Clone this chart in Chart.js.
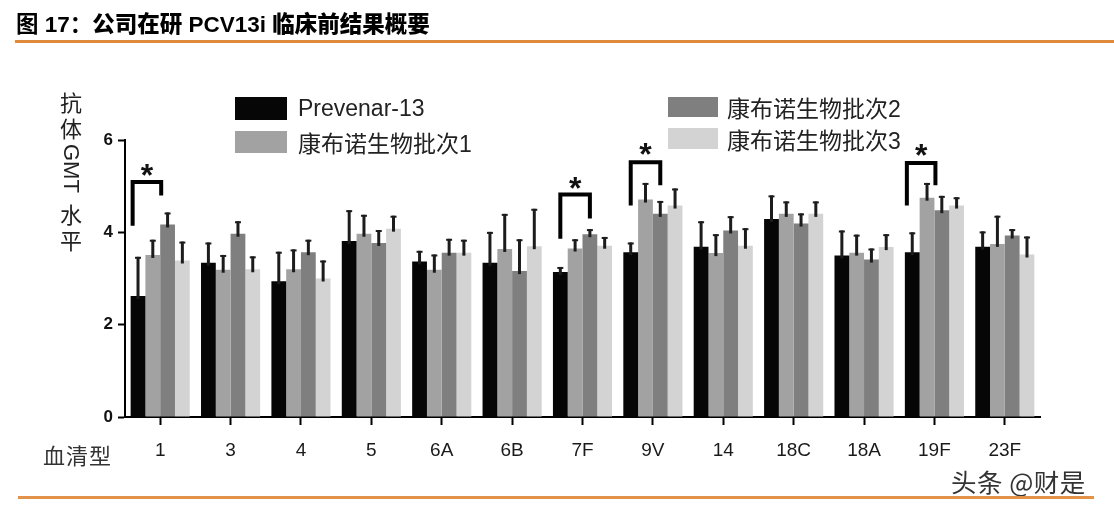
<!DOCTYPE html>
<html>
<head>
<meta charset="utf-8">
<script src="https://cdn.jsdelivr.net/npm/chart.js@4.4.1/dist/chart.umd.min.js"></script>
<style>
    body { margin: 0; background: #fff; }
    #wrap { position: relative; width: 1114px; height: 508px; overflow: hidden; background: #fff; }
    #chart { position: absolute; left: 0; top: 0; }
    .abs { position: absolute; z-index: 2; white-space: nowrap; }
    .title { left: 16px; top: 6px; font: bold 22.5px "Liberation Sans", "Noto Sans CJK SC", sans-serif; color: #000; }
    .title span { font-family: "Noto Sans CJK SC", sans-serif; font-weight: 900; }
    .rule { position: absolute; height: 3px; background: #e08a3c; z-index: 2; }
    #ylabel { left: 58px; top: 88px; width: 26px; text-align: center; font: 22px "Noto Sans CJK SC", sans-serif; color: #222; line-height: 26px; }
    #ylabel .gmt { writing-mode: vertical-rl; font: 22px "Liberation Sans", sans-serif; line-height: 26px; margin: 4px auto 4px; display: inline-block; }
    .leg { position: absolute; z-index: 2; display: flex; align-items: center; white-space: nowrap; color: #222; }
    .leg i { display: inline-block; }
    #xname { left: 43px; top: 438px; font: 22px "Noto Sans CJK SC", sans-serif; color: #333; letter-spacing: 1px; }
    #mark { left: 951px; top: 462px; font: 25.5px "Noto Sans CJK SC", sans-serif; color: #333; letter-spacing: 0.5px; }
</style>
</head>
<body>
<div id="wrap">
    <canvas id="chart" width="1114" height="508"></canvas>
    <div class="abs title">图 17：<span>公司在研</span> PCV13i <span>临床前结果概要</span></div>
    <div class="rule" style="left:15px; top:40px; width:1099px;"></div>
    <div class="abs" id="ylabel">抗<br>体<br><span class="gmt">GMT</span><br>水<br>平</div>
    <div id="legend"></div>
    <div class="abs" id="xname">血清型</div>
    <div class="abs" id="mark">头条 @财是</div>
    <div class="rule" style="left:18px; top:496px; width:1076px; background:#e3924a;"></div>
</div>
<script>
// serotypes on the x axis
var serotypes = ['1', '3', '4', '5', '6A', '6B', '7F', '9V', '14', '18C', '18A', '19F', '23F'];
var seriesNames = ['Prevenar-13', '康布诺生物批次1', '康布诺生物批次2', '康布诺生物批次3'];

// antibody GMT level (bar) and top of the error bar
var prevenar    = [2.62, 3.34, 2.94, 3.81, 3.37, 3.34, 3.14, 3.57, 3.69, 4.29, 3.50, 3.57, 3.69];
var prevenarErr = [3.47, 3.78, 3.58, 4.48, 3.60, 4.01, 3.25, 3.78, 4.24, 4.80, 4.04, 4.00, 4.02];
var lot1        = [3.51, 3.19, 3.20, 3.97, 3.19, 3.64, 3.65, 4.71, 3.55, 4.40, 3.56, 4.75, 3.75];
var lot1Err     = [3.84, 3.51, 3.63, 4.38, 3.52, 4.40, 3.85, 5.07, 3.96, 4.67, 3.95, 5.07, 4.36];
var lot2        = [4.17, 3.97, 3.57, 3.77, 3.56, 3.16, 3.96, 4.40, 4.04, 4.19, 3.41, 4.48, 3.93];
var lot2Err     = [4.43, 4.24, 3.84, 4.05, 3.86, 3.85, 4.07, 4.68, 4.35, 4.41, 3.65, 4.79, 4.07];
var lot3        = [3.39, 3.20, 3.00, 4.08, 3.56, 3.70, 3.71, 4.58, 3.71, 4.40, 3.68, 4.58, 3.52];
var lot3Err     = [3.80, 3.48, 3.39, 4.36, 3.84, 4.51, 3.90, 4.95, 4.09, 4.67, 3.96, 4.76, 3.91];

var yTicks = [0, 2, 4, 6];

// significance brackets (values in GMT units), from Prevenar-13 to the given lot
var sigSerotypes = ['1', '7F', '9V', '19F'];
var sigToSeries  = [1, 2, 2, 1];
var sigTop       = [5.09, 4.82, 5.52, 5.50];
var sigLeftEnd   = [4.14, 3.86, 4.58, 4.58];
var sigRightEnd  = [4.80, 4.30, 5.02, 5.02];
var sigStar      = [5.34, 5.07, 5.81, 5.77];

var colors = ['#060606', '#a2a2a2', '#7f7f7f', '#d3d3d3'];

// Legend (two columns, like the source figure)
var legendBoxes = [
    { left: 235, top: 97, w: 52, h: 23, gap: 11 },
    { left: 235, top: 131, w: 52, h: 22, gap: 11 },
    { left: 668, top: 97, w: 50, h: 20, gap: 9 },
    { left: 668, top: 128, w: 50, h: 21, gap: 9 }
];
var legendEl = document.getElementById('legend');
seriesNames.forEach(function (name, i) {
    var b = legendBoxes[i];
    var item = document.createElement('div');
    item.className = 'leg';
    item.style.left = b.left + 'px';
    item.style.top = b.top + 'px';
    item.style.height = b.h + 'px';
    item.style.font = '23px "Liberation Sans", "Noto Sans CJK SC", sans-serif';
    item.innerHTML = '<i style="width:' + b.w + 'px;height:' + b.h + 'px;background:' + colors[i] +
        ';margin-right:' + b.gap + 'px"></i><span>' + name + '</span>';
    legendEl.appendChild(item);
});

// Draw the upper error bars on top of each bar
var errorBars = {
    id: 'errorBars',
    afterDatasetsDraw: function (chart) {
        var ctx = chart.ctx;
        var y = chart.scales.y;
        chart.data.datasets.forEach(function (ds, i) {
            chart.getDatasetMeta(i).data.forEach(function (bar, j) {
                var top = y.getPixelForValue(ds.errTop[j]);
                ctx.save();
                ctx.strokeStyle = '#1c1c1c';
                ctx.lineWidth = 3;
                ctx.beginPath();
                ctx.moveTo(bar.x, bar.y + 3);
                ctx.lineTo(bar.x, top);
                ctx.stroke();
                ctx.lineWidth = 2;
                ctx.beginPath();
                ctx.moveTo(bar.x - 3, top + 1);
                ctx.lineTo(bar.x + 3, top + 1);
                ctx.stroke();
                ctx.restore();
            });
        });
    }
};

// Significance brackets with a star
var sigMarks = {
    id: 'sigMarks',
    afterDatasetsDraw: function (chart) {
        var ctx = chart.ctx;
        var y = chart.scales.y;
        sigSerotypes.forEach(function (s, k) {
            var idx = serotypes.indexOf(s);
            var b0 = chart.getDatasetMeta(0).data[idx];
            var b1 = chart.getDatasetMeta(sigToSeries[k]).data[idx];
            var x0, x1;
            if (sigToSeries[k] === 1) {
                // neighbouring bars: legs on the outer edges
                x0 = b0.x - b0.width / 2 + 2;
                x1 = b1.x + b1.width / 2 + 1;
            } else {
                // wider span: legs at the bar centres
                x0 = b0.x;
                x1 = b1.x;
            }
            ctx.save();
            ctx.strokeStyle = '#000';
            ctx.lineWidth = 4;
            ctx.lineJoin = 'miter';
            ctx.beginPath();
            ctx.moveTo(x0, y.getPixelForValue(sigLeftEnd[k]));
            ctx.lineTo(x0, y.getPixelForValue(sigTop[k]));
            ctx.lineTo(x1, y.getPixelForValue(sigTop[k]));
            ctx.lineTo(x1, y.getPixelForValue(sigRightEnd[k]));
            ctx.stroke();
            ctx.fillStyle = '#111';
            ctx.font = 'bold 32px "Liberation Sans", sans-serif';
            ctx.textAlign = 'center';
            ctx.textBaseline = 'middle';
            ctx.fillText('*', (x0 + x1) / 2, y.getPixelForValue(sigStar[k]) + 7);
            ctx.restore();
        });
    }
};

var ctx = document.getElementById('chart').getContext('2d');
new Chart(ctx, {
    type: 'bar',
    data: {
        labels: serotypes,
        datasets: [
            { label: seriesNames[0], data: prevenar, errTop: prevenarErr, backgroundColor: colors[0] },
            { label: seriesNames[1], data: lot1, errTop: lot1Err, backgroundColor: colors[1] },
            { label: seriesNames[2], data: lot2, errTop: lot2Err, backgroundColor: colors[2] },
            { label: seriesNames[3], data: lot3, errTop: lot3Err, backgroundColor: colors[3] }
        ]
    },
    options: {
        responsive: false,
        animation: false,
        layout: { padding: { top: 140, right: 74, left: 0, bottom: 0 } },
        datasets: { bar: { categoryPercentage: 0.84, barPercentage: 1.0, borderWidth: 0 } },
        plugins: { legend: { display: false }, tooltip: { enabled: false } },
        scales: {
            x: {
                afterFit: function (scale) { scale.height = 91; },
                grid: { drawOnChartArea: false, drawTicks: true, tickLength: 8, tickWidth: 2, color: '#000', offset: false },
                border: { display: true, color: '#000', width: 2 },
                ticks: { color: '#1a1a1a', padding: 14, font: { family: '"Liberation Sans", sans-serif', size: 19 } }
            },
            y: {
                min: 0,
                max: 6,
                afterFit: function (scale) { scale.width = 125; },
                afterBuildTicks: function (scale) {
                    scale.ticks = yTicks.map(function (v) { return { value: v }; });
                },
                grid: { drawOnChartArea: false, drawTicks: true, tickLength: 7, tickWidth: 2, color: '#000' },
                border: { display: true, color: '#000', width: 2 },
                ticks: { color: '#111', padding: 5, font: { family: '"Liberation Sans", sans-serif', size: 17, weight: 'bold' } }
            }
        }
    },
    plugins: [errorBars, sigMarks]
});
</script>
</body>
</html>
